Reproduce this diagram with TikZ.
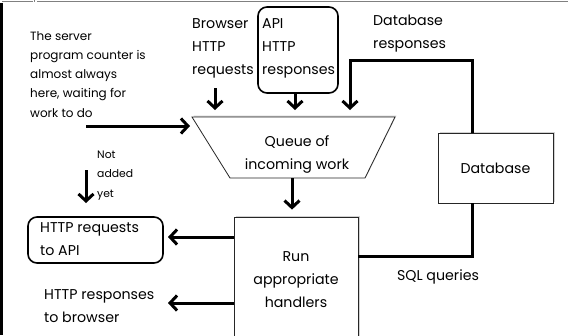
\documentclass[tikz,border=0pt]{standalone}
\usepackage{fontspec}
\setmainfont{Poppins}
\usetikzlibrary{arrows.meta,shadows}
\newcommand\bigtxt{\fontsize{14.2}{23}\selectfont}
\newcommand\midtxt{\fontsize{12}{19.2}\selectfont}
\newcommand\tinytxt{\fontsize{10.8}{19.5}\selectfont}
\begin{document}
\begin{tikzpicture}[x=1pt,y=-1pt,
  every node/.style={inner sep=0pt, font=\bigtxt},
  arr/.style={line width=3pt, -{Straight Barb[length=7pt,width=15pt]}},
  wire/.style={line width=3pt},
  plainbox/.style={draw=black!85, line width=0.8pt, fill=white,
    drop shadow={shadow xshift=1.5pt, shadow yshift=1.5pt, opacity=0.35}},
  roundbox/.style={draw, line width=1.6pt, rounded corners=9pt}]
\clip (0,0) rectangle (568,335);
\fill[white] (0,0) rectangle (568,335);

% window edge
\fill[black] (0,3) rectangle (2.5,335);
\draw[gray, line width=1pt] (2,1.5) -- (33,1.5) (37,1.5) -- (568,1.5);
\draw[gray, line width=1pt] (34.5,0) -- (34.5,2);

% queue of incoming work
\coordinate (qtl) at (192,117);
\coordinate (qtr) at (395,117);
\coordinate (qbr) at (365,178);
\coordinate (qbl) at (230,178);
\filldraw[plainbox] (qtl) -- (qtr) -- (qbr) -- (qbl) -- cycle;
\node[align=center] (queue) at (297,154) {Queue of\\incoming work};

% inputs (multi-line texts are placed by the baseline of their last line)
\node[font=\midtxt, align=left, anchor=base west] (pctext) at (30,117)
  {The server\\program counter is\\almost always\\here, waiting for\\work to do};
\node[align=left, anchor=base west] (browser) at (192,74) {Browser\\HTTP\\requests};
\node[roundbox, minimum width=80, minimum height=86] (api) at (298,50) {};
\node[align=left, anchor=base west] (apitxt) at (262,74) {API\\HTTP\\responses};
\node[align=left, anchor=base west] (dbresp) at (373,48) {Database\\responses};

% processing
\node[plainbox, minimum width=115, minimum height=70] (db) at (495.5,168) {Database};
\node[plainbox, align=center, minimum width=124, minimum height=126] (run) at (296,280)
  {Run\\appropriate\\handlers};
\node (sql) at (438,277) {SQL queries};

% outputs
\node[font=\tinytxt, align=left, anchor=base west] (notadded) at (97,197) {Not\\added\\yet};
\node[roundbox, minimum width=135, minimum height=46] (req) at (95.5,240) {};
\node[align=left, anchor=base west] (reqtxt) at (40,255) {HTTP requests\\to API};
\node[align=left, anchor=base west] (resp) at (44,322) {HTTP responses\\to browser};

% connectors
\coordinate (pc) at (86,126);
\coordinate (bq) at (215,88);
\coordinate (dbx) at (472.5,0);
\coordinate (loop) at (350,60);
\coordinate (qb) at (292,178);
\coordinate (na) at (86,170);
\coordinate (nb) at (86,203);
\coordinate (rq) at (168,237);
\coordinate (rsp) at (168,303);
\coordinate (sqlc) at (358,256);

\draw[arr, shorten >=2pt] (pc) -- (pc -| qtl);
\draw[arr, shorten >=7pt] (bq) -- (bq |- qtl);
\draw[arr, shorten >=7pt] (api.south -| 295,0) -- (295,117);
\draw[arr, shorten >=7pt] (dbx |- db.north) |- (loop) -- (loop |- qtl);
\draw[arr, shorten >=7pt] (qb) -- (qb |- run.north);
\draw[arr] (rq -| run.west) -- (rq);
\draw[arr] (rsp -| run.west) -- (rsp);
\draw[wire] (sqlc) -| (dbx |- db.south);
\draw[arr] (na) -- (nb);
\end{tikzpicture}
\end{document}
